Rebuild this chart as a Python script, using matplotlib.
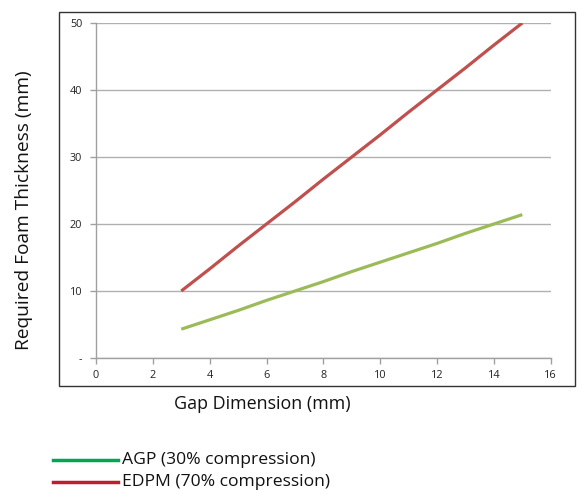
import matplotlib
matplotlib.use("Agg")
import matplotlib.pyplot as plt
from matplotlib.lines import Line2D
from matplotlib.patches import Rectangle

gap = [3, 4, 5, 6, 7, 8, 9, 10, 11, 12, 13, 14, 15]
agp = [4.3, 5.7, 7.1, 8.6, 10.0, 11.4, 12.9, 14.3, 15.7, 17.1, 18.6, 20.0, 21.4]
edpm = [10.0, 13.3, 16.7, 20.0, 23.3, 26.7, 30.0, 33.3, 36.7, 40.0, 43.3, 46.7, 50.0]
xticks = [0, 2, 4, 6, 8, 10, 12, 14, 16]
yticks = [0, 10, 20, 30, 40, 50]
ytick_labels = ["-", "10", "20", "30", "40", "50"]
series_names = ["AGP (30% compression)", "EDPM (70% compression)"]

plt.rcParams['font.family'] = ['Open Sans', 'DejaVu Sans']

fig = plt.figure(figsize=(5.8, 4.94), dpi=100)
# outer chart frame
fig.patches.append(Rectangle((59/580, 1-386/494), (575-59)/580, (386-12)/494,
                             transform=fig.transFigure, fill=False,
                             edgecolor='#333333', linewidth=1.0))

ax = fig.add_axes([96/580, 1-358/494, (550.7-96)/580, (358-23)/494])
ax.plot(gap, edpm, color='#C0504D', linewidth=2.3, solid_capstyle='butt')
ax.plot(gap, agp, color='#9BBB59', linewidth=2.3, solid_capstyle='butt')
ax.set_xlim(0, 16)
ax.set_ylim(0, 50)
ax.set_xticks(xticks)
ax.set_xticklabels([str(v) for v in xticks])
ax.set_yticks(yticks)
ax.set_yticklabels(ytick_labels)
ax.grid(axis='y', color='#B0B0B0', linewidth=1.0)
ax.set_axisbelow(True)
for s in ['top', 'right']:
    ax.spines[s].set_visible(False)
for s in ['left', 'bottom']:
    ax.spines[s].set_color('#A0A0A0')
    ax.spines[s].set_linewidth(1.0)
ax.tick_params(axis='both', colors='#A0A0A0', labelcolor='#222222',
               labelsize=7.8, length=4, width=1.0)
ax.tick_params(axis='x', pad=5)
ax.tick_params(axis='y', pad=6)

fig.text(24/580, 1-210/494, "Required Foam Thickness (mm)", rotation=90,
         ha='center', va='center', fontsize=13.8, color='#111111')
fig.text(262/580, 1-404/494, "Gap Dimension (mm)", ha='center', va='center',
         fontsize=12.9, color='#111111')

legend_colors = ['#00A651', '#BE1E2D']
legend_y = [460, 482]
for name, c, y in zip(series_names, legend_colors, legend_y):
    fig.add_artist(Line2D([53/580, 118/580], [1-y/494, 1-y/494],
                          transform=fig.transFigure, color=c, linewidth=2.5))
    fig.text(122/580, 1-y/494, name, ha='left', va='center',
             fontsize=12.6, color='#111111')

fig.savefig("out.png", dpi=100)
